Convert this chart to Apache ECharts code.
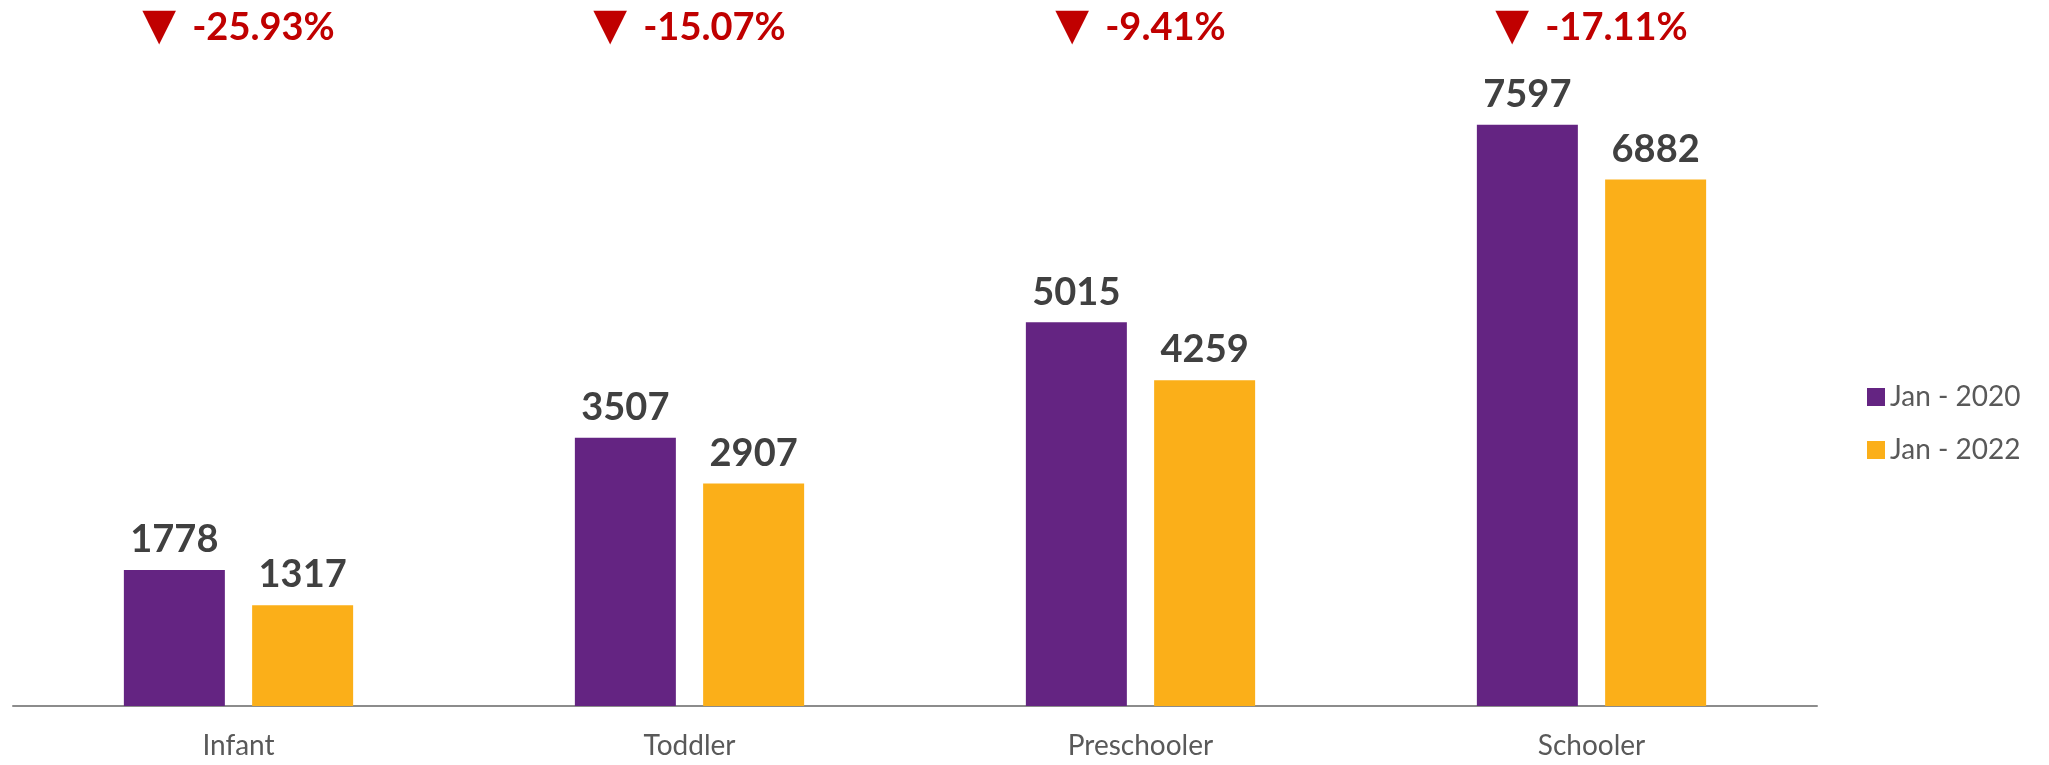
<!DOCTYPE html>
<html>
<head>
<meta charset="utf-8">
<script src="https://cdn.jsdelivr.net/npm/echarts@6/dist/echarts.min.js"></script>
<style>
html,body{margin:0;padding:0;background:#fff;}
#chart{width:2049px;height:765px;}
</style>
</head>
<body>
<div id="chart"></div>
<script>
var categories = ['Infant', 'Toddler', 'Preschooler', 'Schooler'];
var seriesNames = ['Jan - 2020', 'Jan - 2022'];
var jan2020 = [1778, 3507, 5015, 7597];
var jan2022 = [1317, 2907, 4259, 6882];
var changeLabels = ['-25.93%', '-15.07%', '-9.41%', '-17.11%'];

var FONT = 'Lato, "Open Sans", "DejaVu Sans", sans-serif';
var chart = echarts.init(document.getElementById('chart'));
chart.setOption({
  animation: false,
  backgroundColor: '#ffffff',
  textStyle: { fontFamily: FONT },
  grid: { left: 13, top: 94, width: 1804, height: 612, containLabel: false },
  legend: {
    orient: 'vertical',
    left: 1862,
    top: 378,
    icon: 'rect',
    itemWidth: 18,
    itemHeight: 18,
    itemGap: 25,
    textStyle: { fontFamily: FONT, fontSize: 28, color: '#595959' },
    data: seriesNames
  },
  xAxis: [{
    type: 'category',
    data: categories,
    position: 'bottom',
    axisTick: { show: false },
    axisLine: { lineStyle: { color: '#8c8c8c', width: 2 } },
    axisLabel: { fontFamily: FONT, fontSize: 28, color: '#595959', margin: 26 }
  }, {
    type: 'category',
    data: changeLabels,
    position: 'top',
    axisTick: { show: false },
    axisLine: { show: false },
    axisLabel: {
      margin: 44,
      formatter: function (v) { return '{tri|▼}{pct|' + v + '}'; },
      rich: {
        tri: { fontFamily: '"DejaVu Sans", sans-serif', fontSize: 44, color: '#c00000', padding: [0, 16, 0, 0] },
        pct: { fontFamily: FONT, fontSize: 38, fontWeight: 'bold', color: '#c00000' }
      }
    }
  }],
  yAxis: {
    type: 'value',
    min: 0,
    max: 8000,
    show: false,
    splitLine: { show: false }
  },
  series: [{
    name: seriesNames[0],
    type: 'bar',
    data: jan2020,
    barWidth: 101,
    barGap: '27%',
    itemStyle: { color: '#642482' },
    label: { show: true, position: 'top', distance: 11, fontFamily: FONT, fontSize: 38, fontWeight: 'bold', color: '#404040' }
  }, {
    name: seriesNames[1],
    type: 'bar',
    data: jan2022,
    barWidth: 101,
    itemStyle: { color: '#fbaf19' },
    label: { show: true, position: 'top', distance: 11, fontFamily: FONT, fontSize: 38, fontWeight: 'bold', color: '#404040' }
  }]
});
</script>
</body>
</html>
